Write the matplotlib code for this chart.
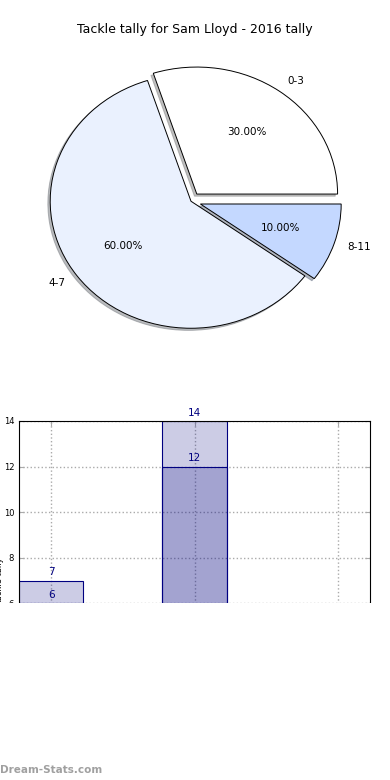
import matplotlib
matplotlib.use("Agg")
import matplotlib.pyplot as plt
import numpy as np

# pie data
pie_labels = ['0-3', '4-7', '8-11']
pie_values = [30, 60, 10]
pie_colors = ['#ffffff', '#eaf1fe', '#c4d8ff']
pie_explode = [0.07, 0, 0.07]

# bar data
bar_cats = ['0-3', '4-7', '8-11']
bar_prev = [7, 14, 3]
bar_tally = [6, 12, 2]

fig = plt.figure(figsize=(3.9, 7.8), dpi=100)
fig.text(0.5, 1 - 30 / 780, 'Tackle tally for Sam Lloyd - 2016 tally',
         ha='center', va='center', fontsize=9)

# pie chart (elliptical, like the old output)
ax1 = fig.add_axes([15 / 390, 1 - 360 / 780, 352 / 390, 317.5 / 780])
wedges, texts, autotexts = ax1.pie(pie_values, labels=pie_labels, colors=pie_colors,
                                   explode=pie_explode, autopct='%1.2f%%',
                                   shadow=dict(ox=-0.012, oy=-0.012, shade=0.5),
                                   startangle=0, labeldistance=1.1, pctdistance=0.6,
                                   wedgeprops=dict(edgecolor='black', linewidth=0.7),
                                   textprops=dict(fontsize=7.5))
ax1.set_aspect('auto')
ax1.set_xlim(-1.25, 1.25)
ax1.set_ylim(-1.25, 1.25)

# bar chart
ax2 = fig.add_axes([19 / 390, 1 - 740 / 780, 351 / 390, 319 / 780])
x = np.arange(len(bar_cats))
face = (0, 0, 0.5, 0.2)
b1 = ax2.bar(x, bar_prev, width=0.45, color=face, edgecolor='navy', linewidth=0.8)
b2 = ax2.bar(x, bar_tally, width=0.45, color=face, edgecolor='navy', linewidth=0.8)
for xi, v in zip(x, bar_prev):
    ax2.text(xi, v + 0.15, str(v), ha='center', va='bottom', color='navy', fontsize=7.5)
for xi, v in zip(x, bar_tally):
    ax2.text(xi, v + 0.15, str(v), ha='center', va='bottom', color='navy', fontsize=7.5)
ax2.set_xlim(-0.225, 2.225)
ax2.set_ylim(0, 14)
ax2.set_xticks(x)
ax2.set_xticklabels(bar_cats)
ax2.set_yticks(range(0, 15, 2))
ax2.tick_params(direction='in', labelsize=6, top=True, right=True, color='#aaaaaa')
ax2.grid(True, linestyle=':', color='#aaaaaa', linewidth=1)
ax2.set_axisbelow(True)
ax2.set_ylabel('Tackle tally', fontsize=6)
ax2.yaxis.set_label_coords(-0.044, 0.5)

# the lower part of the picture is blank in the original
fig.patches.append(plt.Rectangle((0, 20 / 780), 1, (760 - 602.5) / 780,
                                 transform=fig.transFigure, facecolor='white',
                                 edgecolor='none', zorder=10))

fig.text(0.0, 1 - 770 / 780, 'Dream-Stats.com', ha='left', va='center',
         fontsize=7.5, color='#a0a0a0', fontweight='bold', zorder=11)

fig.savefig('out.png', dpi=100)
